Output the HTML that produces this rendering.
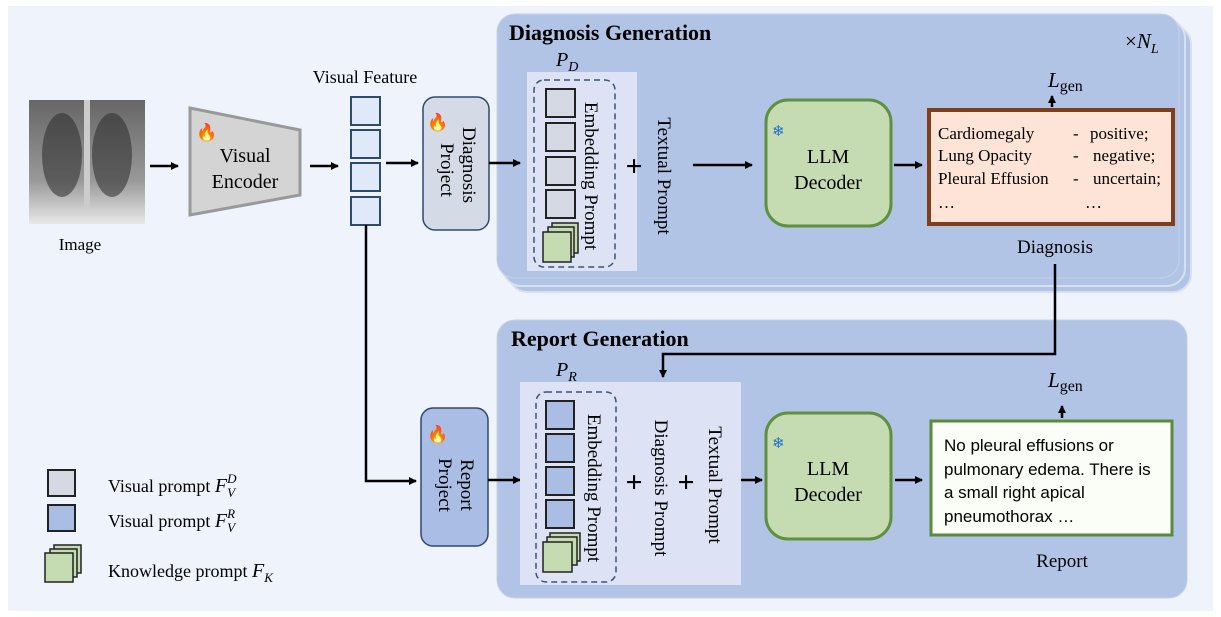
<!DOCTYPE html>
<html><head><meta charset="utf-8"><style>
body{margin:0;background:#fff;}
svg{display:block;font-family:"Liberation Serif",serif;}
</style></head><body>
<svg width="1221" height="617" viewBox="0 0 1221 617" xmlns="http://www.w3.org/2000/svg">
<defs>
<marker id="ah" markerWidth="8" markerHeight="8" refX="7" refY="4" orient="auto" markerUnits="userSpaceOnUse"><path d="M0,0 L8,4 L0,8 z" fill="#000"/></marker>
<linearGradient id="xr" x1="0" y1="0" x2="0" y2="1"><stop offset="0" stop-color="#666"/><stop offset="0.65" stop-color="#999"/><stop offset="1" stop-color="#e8e8e8"/></linearGradient>
</defs>
<rect x="8" y="6" width="1205" height="605" fill="#eff3fb"/>
<!-- diagnosis stacked panels -->
<rect x="509" y="26" width="682" height="266" rx="18" fill="#b2c4e6" stroke="#d8e0ef" stroke-width="2"/>
<rect x="503" y="20" width="682" height="266" rx="18" fill="#b2c4e6" stroke="#d8e0ef" stroke-width="2"/>
<rect x="497" y="14" width="682" height="264" rx="18" fill="#b2c4e6" stroke="#c6d1e6" stroke-width="1"/>
<text x="509" y="40" font-size="22" font-weight="bold">Diagnosis Generation</text>
<text x="1125" y="48" font-size="21">×<tspan font-style="italic">N</tspan><tspan font-style="italic" font-size="14" dy="5">L</tspan></text>
<!-- report panel -->
<rect x="497" y="320" width="690" height="278" rx="18" fill="#b2c4e6" stroke="#c6d1e6"/>
<text x="511" y="346" font-size="22" font-weight="bold">Report Generation</text>
<!-- image -->
<rect x="29" y="100" width="116" height="124" fill="url(#xr)"/>
<ellipse cx="62" cy="155" rx="20" ry="42" fill="#2a2a2a" opacity="0.55"/>
<ellipse cx="112" cy="155" rx="20" ry="42" fill="#2a2a2a" opacity="0.55"/>
<rect x="84" y="100" width="6" height="110" fill="#ccc"/>
<text x="80" y="250" font-size="17" text-anchor="middle">Image</text>
<!-- encoder -->
<polygon points="190,108 300,130 300,195 190,215" fill="#d4d4d4" stroke="#999" stroke-width="3"/>
<text x="245" y="162" font-size="20" text-anchor="middle">Visual</text>
<text x="245" y="188" font-size="20" text-anchor="middle">Encoder</text>
<text x="196" y="138" font-size="17" fill="#f58a1f">🔥</text>
<line x1="150" y1="166" x2="178" y2="166" stroke="#000" stroke-width="2.5" marker-end="url(#ah)"/>
<line x1="310" y1="166" x2="338" y2="166" stroke="#000" stroke-width="2.5" marker-end="url(#ah)"/>
<text x="365" y="83" font-size="18" text-anchor="middle">Visual Feature</text>
<g fill="#dfe9f7" stroke="#2d4a70" stroke-width="2">
<rect x="351" y="97" width="29" height="28"/><rect x="351" y="130" width="29" height="28"/><rect x="351" y="163" width="29" height="28"/><rect x="351" y="197" width="29" height="28"/></g>
<line x1="386" y1="163" x2="418" y2="163" stroke="#000" stroke-width="2.5" marker-end="url(#ah)"/>
<!-- diagnosis project -->
<rect x="423" y="97" width="66" height="133" rx="12" fill="#d4dae6" stroke="#2d4a70" stroke-width="1.5"/>
<text x="427" y="128" font-size="17">🔥</text>
<text transform="translate(463,165) rotate(90)" font-size="19" text-anchor="middle">Diagnosis</text>
<text transform="translate(441,170) rotate(90)" font-size="19" text-anchor="middle">Project</text>
<line x1="489" y1="163" x2="520" y2="163" stroke="#000" stroke-width="2.5" marker-end="url(#ah)"/>
<!-- PD prompt -->
<rect x="527" y="72" width="110" height="199" fill="#dde3f4"/>
<text x="556" y="66" font-size="20" font-style="italic">P<tspan font-size="14" dy="5">D</tspan></text>
<rect x="534" y="80" width="81" height="187" rx="10" fill="none" stroke="#3b5575" stroke-width="1.5" stroke-dasharray="6,4"/>
<g fill="#d4d9e3" stroke="#222" stroke-width="2">
<rect x="546" y="89" width="29" height="28"/><rect x="546" y="123" width="29" height="28"/><rect x="546" y="157" width="29" height="28"/><rect x="546" y="190" width="29" height="28"/></g>
<g fill="#c5dcb2" stroke="#222" stroke-width="1.5">
<rect x="552" y="223" width="26" height="30"/><rect x="548" y="227" width="26" height="30"/><rect x="543" y="232" width="28" height="30"/></g>
<text transform="translate(585,176) rotate(90)" font-size="19" text-anchor="middle">Embedding Prompt</text>
<text x="634" y="176" font-size="30" text-anchor="middle" font-weight="bold">+</text>
<text transform="translate(658,176) rotate(90)" font-size="19" text-anchor="middle">Textual Prompt</text>
<line x1="693" y1="165" x2="752" y2="165" stroke="#000" stroke-width="2.5" marker-end="url(#ah)"/>
<!-- LLM top -->
<rect x="766" y="100" width="125" height="126" rx="22" fill="#c5dcb2" stroke="#5f8f3f" stroke-width="3"/>
<text x="772" y="136" font-size="15" fill="#1f6fd0">❄</text>
<text x="828" y="163" font-size="20" text-anchor="middle">LLM</text>
<text x="828" y="189" font-size="20" text-anchor="middle">Decoder</text>
<line x1="894" y1="165" x2="922" y2="165" stroke="#000" stroke-width="2.5" marker-end="url(#ah)"/>
<rect x="929" y="110" width="244" height="114" fill="#fde4d6" stroke="#7f3f1a" stroke-width="4"/>
<g font-size="17">
<text x="938" y="139">Cardiomegaly</text><text x="1073" y="139">-</text><text x="1090" y="139">positive;</text>
<text x="938" y="161">Lung Opacity</text><text x="1073" y="161">-</text><text x="1093" y="161">negative;</text>
<text x="938" y="184">Pleural Effusion</text><text x="1073" y="184">-</text><text x="1093" y="184">uncertain;</text>
<text x="938" y="208">…</text><text x="1085" y="208">…</text></g>
<text x="1048" y="87" font-size="21" font-style="italic">L<tspan font-style="normal" font-size="16" dy="4">gen</tspan></text>
<line x1="1052" y1="107" x2="1052" y2="96" stroke="#000" stroke-width="2.5" marker-end="url(#ah)"/>
<text x="1055" y="253" font-size="19" text-anchor="middle">Diagnosis</text>
<polyline points="1055,264 1055,354 663,354 663,377" fill="none" stroke="#000" stroke-width="2.5" marker-end="url(#ah)"/>
<!-- report branch -->
<polyline points="366,225 366,481 416,481" fill="none" stroke="#000" stroke-width="2.5" marker-end="url(#ah)"/>
<rect x="421" y="408" width="67" height="138" rx="12" fill="#a9bde5" stroke="#2d4a70" stroke-width="1.5"/>
<text x="427" y="440" font-size="17">🔥</text>
<text transform="translate(461,485) rotate(90)" font-size="19" text-anchor="middle">Report</text>
<text transform="translate(439,485) rotate(90)" font-size="19" text-anchor="middle">Project</text>
<line x1="488" y1="480" x2="520" y2="480" stroke="#000" stroke-width="2.5" marker-end="url(#ah)"/>
<rect x="520" y="382" width="221" height="203" fill="#dde3f4"/>
<text x="556" y="376" font-size="20" font-style="italic">P<tspan font-size="14" dy="5">R</tspan></text>
<rect x="536" y="392" width="80" height="190" rx="10" fill="none" stroke="#3b5575" stroke-width="1.5" stroke-dasharray="6,4"/>
<g fill="#a9bde5" stroke="#222" stroke-width="2">
<rect x="546" y="401" width="28" height="28"/><rect x="546" y="434" width="28" height="28"/><rect x="546" y="467" width="28" height="28"/><rect x="546" y="500" width="28" height="28"/></g>
<g fill="#c5dcb2" stroke="#222" stroke-width="1.5">
<rect x="550" y="533" width="30" height="28"/><rect x="547" y="537" width="30" height="28"/><rect x="543" y="542" width="29" height="30"/></g>
<text transform="translate(588,488) rotate(90)" font-size="19" text-anchor="middle">Embedding Prompt</text>
<text x="634" y="492" font-size="30" text-anchor="middle" font-weight="bold">+</text>
<text transform="translate(655,488) rotate(90)" font-size="19" text-anchor="middle">Diagnosis Prompt</text>
<text x="686" y="492" font-size="30" text-anchor="middle" font-weight="bold">+</text>
<text transform="translate(709,485) rotate(90)" font-size="19" text-anchor="middle">Textual Prompt</text>
<line x1="741" y1="480" x2="762" y2="480" stroke="#000" stroke-width="2.5" marker-end="url(#ah)"/>
<rect x="766" y="413" width="125" height="126" rx="22" fill="#c5dcb2" stroke="#5f8f3f" stroke-width="3"/>
<text x="772" y="448" font-size="15" fill="#1f6fd0">❄</text>
<text x="828" y="475" font-size="20" text-anchor="middle">LLM</text>
<text x="828" y="501" font-size="20" text-anchor="middle">Decoder</text>
<line x1="895" y1="480" x2="922" y2="480" stroke="#000" stroke-width="2.5" marker-end="url(#ah)"/>
<rect x="931" y="421" width="241" height="114" fill="#fbfdf7" stroke="#5a8a3a" stroke-width="3"/>
<g font-size="17" font-family="Liberation Sans,sans-serif">
<text x="944" y="451">No pleural effusions or</text>
<text x="944" y="475">pulmonary edema. There is</text>
<text x="944" y="498">a small right apical</text>
<text x="944" y="522">pneumothorax …</text></g>
<text x="1048" y="387" font-size="21" font-style="italic">L<tspan font-style="normal" font-size="16" dy="4">gen</tspan></text>
<line x1="1062" y1="418" x2="1062" y2="406" stroke="#000" stroke-width="2.5" marker-end="url(#ah)"/>
<text x="1062" y="567" font-size="19" text-anchor="middle">Report</text>
<!-- legend -->
<rect x="48" y="470" width="27" height="26" fill="#d4d9e3" stroke="#222" stroke-width="2"/>
<rect x="48" y="505" width="27" height="26" fill="#a9bde5" stroke="#222" stroke-width="2"/>
<g fill="#c5dcb2" stroke="#222" stroke-width="1.5">
<rect x="54" y="545" width="27" height="28"/><rect x="50" y="549" width="27" height="28"/><rect x="45" y="553" width="28" height="29"/></g>
<text x="108" y="492" font-size="18">Visual prompt <tspan font-style="italic" font-size="20">F</tspan><tspan font-style="italic" font-size="13" dy="5">V</tspan><tspan font-style="italic" font-size="13" dx="-8" dy="-14">D</tspan></text>
<text x="108" y="527" font-size="18">Visual prompt <tspan font-style="italic" font-size="20">F</tspan><tspan font-style="italic" font-size="13" dy="5">V</tspan><tspan font-style="italic" font-size="13" dx="-8" dy="-14">R</tspan></text>
<text x="108" y="577" font-size="18">Knowledge prompt <tspan font-style="italic" font-size="20">F</tspan><tspan font-style="italic" font-size="13" dy="5">K</tspan></text>
</svg>
</body></html>
